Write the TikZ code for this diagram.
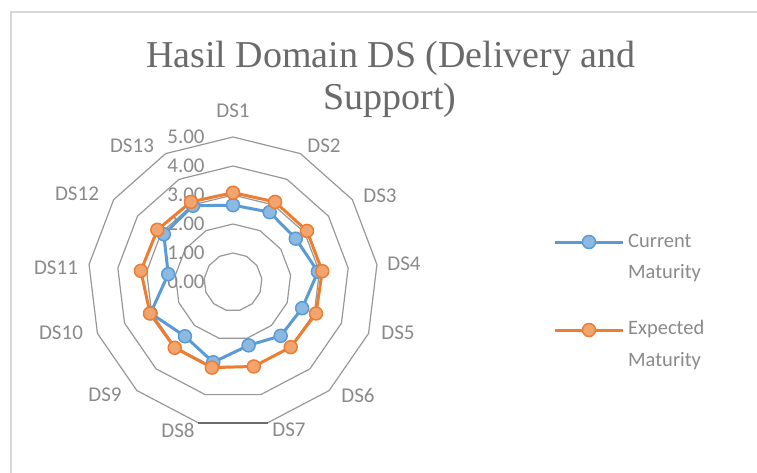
\documentclass[tikz,border=0pt]{standalone}
\usepackage{fontspec}
\setmainfont{Liberation Serif}
\newfontfamily\lblfont{Carlito}
\usetikzlibrary{calc}
\definecolor{cblue}{HTML}{5B9BD5}
\definecolor{corange}{HTML}{ED7D31}
\definecolor{gridc}{HTML}{989898}
\definecolor{txtc}{HTML}{8A8A8A}
\definecolor{titlec}{HTML}{6A6A6A}
\definecolor{framec}{HTML}{D9D9D9}
\tikzset{
  gridline/.style={draw=gridc, line width=1.2pt},
  bline/.style={draw=cblue, line width=3pt, line join=round},
  oline/.style={draw=corange, line width=3pt, line join=round},
  bmark/.style={circle, inner sep=0pt, minimum size=13pt, fill=cblue!70!white, draw=cblue, line width=1.5pt},
  omark/.style={circle, inner sep=0pt, minimum size=13pt, fill=corange!70!white, draw=corange, line width=1.5pt},
  axlbl/.style={font=\lblfont\fontsize{21}{24}\selectfont, text=txtc, inner sep=0pt},
  vallbl/.style={font=\lblfont\fontsize{21}{24}\selectfont, text=txtc, inner sep=0pt},
  leglbl/.style={font=\lblfont\fontsize{20.5}{24}\selectfont, text=txtc, inner sep=0pt, anchor=west},
}
\begin{document}
\begin{tikzpicture}[x=1pt,y=-1pt]
\useasboundingbox (0,0) rectangle (757,472);
\fill[white] (0,0) rectangle (757,472);
\draw[framec, line width=2pt] (760,12) -- (11,12) -- (11,475);

% title
\node[font=\fontsize{38}{42}\selectfont, text=titlec, inner sep=0pt] (title1) at (391,58) {Hasil Domain DS (Delivery and};
\node[font=\fontsize{38}{42}\selectfont, text=titlec, inner sep=0pt] (title2) at (390,100) {Support)};

\coordinate (O) at (233,282);

% grid polygons
\foreach \k in {1,...,5}{
  \draw[gridline] ($(O)+(-90:{29*\k})$) \foreach \i in {1,...,12}{ -- ($(O)+({-90+\i*360/13}:{29*\k})$) } -- cycle;
}
% darker bottom edge of the outer polygon
\coordinate (g7) at ($(O)+({-90+6*360/13}:145)$);
\coordinate (g8) at ($(O)+({-90+7*360/13}:145)$);
\draw[draw=gray!85!black, line width=1.6pt] (g7) -- (g8);

% value labels
\foreach \k in {0,...,5}{
  \node[vallbl] (v\k) at (186,{282-29*\k}) {\k.00};
}

% category labels
\node[axlbl] (l1) at (233,111) {DS1};
\node[axlbl] (l2) at (324,146) {DS2};
\node[axlbl] (l3) at (380,196) {DS3};
\node[axlbl] (l4) at (404,264) {DS4};
\node[axlbl] (l5) at (398,333) {DS5};
\node[axlbl] (l6) at (358,395) {DS6};
\node[axlbl] (l7) at (289,430) {DS7};
\node[axlbl] (l8) at (178,430) {DS8};
\node[axlbl] (l9) at (105,395) {DS9};
\node[axlbl] (l10) at (61,333) {DS10};
\node[axlbl] (l11) at (56,268) {DS11};
\node[axlbl] (l12) at (77,194) {DS12};
\node[axlbl] (l13) at (132,146) {DS13};

% data points
\foreach \v [count=\i] in {2.65,2.72,2.63,2.95,2.55,2.48,2.25,2.85,2.5,3.04,2.25,2.9,2.97}{
  \coordinate (c\i) at ($(O)+({-90+(\i-1)*360/13}:{29*\v})$);
}
\foreach \v [count=\i] in {3.08,3.12,3.1,3.1,3.06,3.0,3.0,3.04,3.03,3.06,3.2,3.17,3.12}{
  \coordinate (e\i) at ($(O)+({-90+(\i-1)*360/13}:{29*\v})$);
}

\draw[bline] (c1) -- (c2) -- (c3) -- (c4) -- (c5) -- (c6) -- (c7) -- (c8) -- (c9) -- (c10) -- (c11) -- (c12) -- (c13) -- cycle;
\foreach \i in {1,...,13}{ \node[bmark] (cm\i) at (c\i) {}; }

\draw[oline] (e1) -- (e2) -- (e3) -- (e4) -- (e5) -- (e6) -- (e7) -- (e8) -- (e9) -- (e10) -- (e11) -- (e12) -- (e13) -- cycle;
\foreach \i in {1,...,13}{ \node[omark] (em\i) at (e\i) {}; }

% legend
\coordinate (lba) at (555,242);
\coordinate (lbb) at (623,242);
\draw[bline] (lba) -- (lbb);
\node[bmark] (lbm) at (589,242) {};
\node[leglbl] (lbt1) at (628,241) {Current};
\node[leglbl] (lbt2) at (628,273) {Maturity};

\coordinate (loa) at (555,330);
\coordinate (lob) at (623,330);
\draw[oline] (loa) -- (lob);
\node[omark] (lom) at (589,330) {};
\node[leglbl] (lot1) at (628,329) {Expected};
\node[leglbl] (lot2) at (628,361) {Maturity};
\end{tikzpicture}
\end{document}
